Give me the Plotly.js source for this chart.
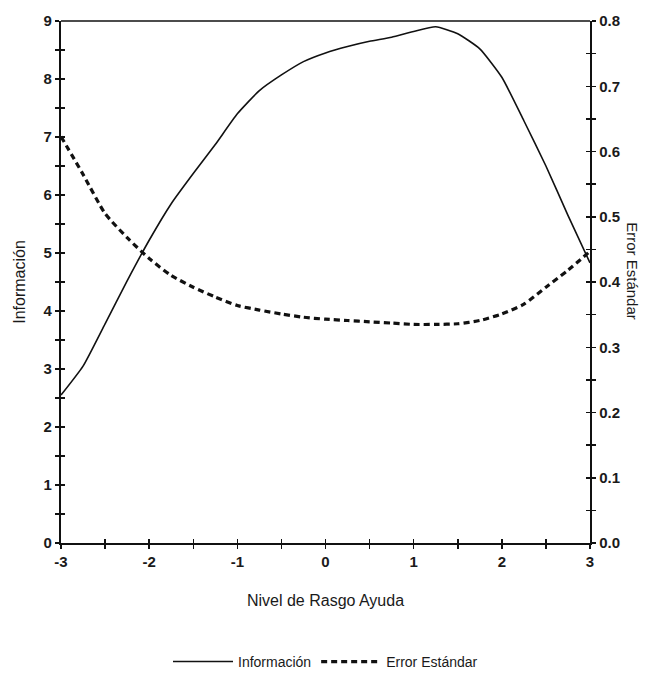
<!DOCTYPE html>
<html>
<head>
<meta charset="utf-8">
<script src="https://cdn.plot.ly/plotly-3.0.1.min.js"></script>
<style>html,body{margin:0;padding:0;background:#fff;}#chart{width:651px;height:681px;}</style>
</head>
<body>
<div id="chart"></div>
<script>
var nivel = [-3,-2.75,-2.5,-2.25,-2,-1.75,-1.5,-1.25,-1,-0.75,-0.5,-0.25,0,0.25,0.5,0.75,1,1.25,1.5,1.75,2,2.25,2.5,2.75,3];
var informacion = [2.55,3.05,3.78,4.52,5.22,5.85,6.37,6.87,7.4,7.8,8.07,8.3,8.45,8.56,8.65,8.72,8.82,8.9,8.78,8.52,8.03,7.28,6.5,5.65,4.83];
var errorEstandar = [0.623,0.565,0.505,0.468,0.436,0.41,0.392,0.377,0.364,0.357,0.351,0.346,0.343,0.341,0.339,0.337,0.335,0.335,0.336,0.341,0.351,0.366,0.392,0.418,0.447];
var xTickVals = [-3,-2,-1,0,1,2,3];
var xTickText = ['-3','-2','-1','0','1','2','3'];
var yTickVals = [0,1,2,3,4,5,6,7,8,9];
var y2TickVals = [0,0.1,0.2,0.3,0.4,0.5,0.6,0.7,0.8];
var y2TickText = ['0.0','0.1','0.2','0.3','0.4','0.5','0.6','0.7','0.8'];

var tickFont = {family:'Liberation Sans, Arial, sans-serif', size:15, color:'#1a1a1a', weight:'bold'};
var titleFont = {family:'Liberation Sans, Arial, sans-serif', size:16, color:'#1a1a1a'};
var traces = [
  {x:nivel, y:informacion, type:'scatter', mode:'lines', name:'Información',
   line:{color:'#111', width:1.6, shape:'spline', smoothing:0.5}, xaxis:'x', yaxis:'y'},
  {x:nivel, y:errorEstandar, type:'scatter', mode:'lines', name:'Error Estándar',
   line:{color:'#111', width:3.2, dash:'6px,4px', shape:'spline', smoothing:0.6}, xaxis:'x', yaxis:'y2'}
];

var tk = {ticklen:4, tickwidth:1.5, tickcolor:'#111'};
var layout = {
  width:651, height:681,
  margin:{l:61, r:61, t:21, b:138, autoexpand:false},
  paper_bgcolor:'#fff', plot_bgcolor:'#fff',
  showlegend:true,
  legend:{orientation:'h', x:0.5, xanchor:'center', yref:'container', y:0.028, yanchor:'middle',
    font:{family:'Liberation Sans Narrow, Liberation Sans, Arial, sans-serif', size:14, color:'#1a1a1a'},
    itemwidth:60, tracegroupgap:0},
  xaxis:Object.assign({range:[-3,3], tickvals:xTickVals, ticktext:xTickText, ticks:'outside',
    minor:Object.assign({dtick:0.5, ticks:'outside'}, tk),
    showline:true, linewidth:2.2, linecolor:'#111', showgrid:false, zeroline:false, automargin:false,
    tickfont:tickFont, ticklabelstandoff:0,
    title:{text:'Nivel de Rasgo Ayuda', font:titleFont, standoff:26}}, tk),
  yaxis:Object.assign({range:[0,9], tickvals:yTickVals, ticks:'outside',
    minor:Object.assign({dtick:0.5, ticks:'outside'}, tk),
    showline:true, linewidth:2.2, linecolor:'#111', showgrid:false, zeroline:false, automargin:false,
    tickfont:tickFont, ticklabelstandoff:0,
    title:{text:'Información', font:titleFont, standoff:14}}, tk),
  yaxis2:Object.assign({range:[0,0.8], tickvals:y2TickVals, ticktext:y2TickText, overlaying:'y', side:'right',
    ticks:'outside', minor:Object.assign({dtick:0.05, ticks:'outside'}, tk),
    showline:true, linewidth:2.2, linecolor:'#111', showgrid:false, zeroline:false, automargin:false,
    tickfont:tickFont, ticklabelstandoff:0}, tk),
  xaxis3:Object.assign({range:[-3,3], overlaying:'x', anchor:'y', tickvals:xTickVals, showticklabels:false,
    ticks:'inside', minor:Object.assign({dtick:0.5, ticks:'inside'}, tk),
    showline:false, showgrid:false, zeroline:false}, tk),
  yaxis3:Object.assign({range:[0,9], overlaying:'y', anchor:'x', tickvals:yTickVals, showticklabels:false,
    ticks:'inside', minor:Object.assign({dtick:0.5, ticks:'inside'}, tk),
    showline:false, showgrid:false, zeroline:false}, tk),
  yaxis4:Object.assign({range:[0,0.8], overlaying:'y', side:'right', anchor:'x', tickvals:y2TickVals, showticklabels:false,
    ticks:'inside', minor:Object.assign({dtick:0.05, ticks:'inside'}, tk),
    showline:false, showgrid:false, zeroline:false}, tk),
  shapes:[{type:'line', xref:'paper', yref:'paper', x0:0, x1:1, y0:1, y1:1, line:{color:'#111', width:1.6}}],
  annotations:[{text:'Error Estándar', xref:'paper', yref:'paper', x:1.08, y:0.52, xanchor:'center', yanchor:'middle',
    showarrow:false, textangle:90, font:{family:'Liberation Sans, Arial, sans-serif', size:15, color:'#1a1a1a'}}]
};

traces.push({x:[null], y:[null], xaxis:'x3', yaxis:'y3', showlegend:false, hoverinfo:'skip', type:'scatter', mode:'lines'});
traces.push({x:[null], y:[null], xaxis:'x3', yaxis:'y4', showlegend:false, hoverinfo:'skip', type:'scatter', mode:'lines'});

Plotly.newPlot('chart', traces, layout, {displayModeBar:false, staticPlot:true});
</script>
</body>
</html>
